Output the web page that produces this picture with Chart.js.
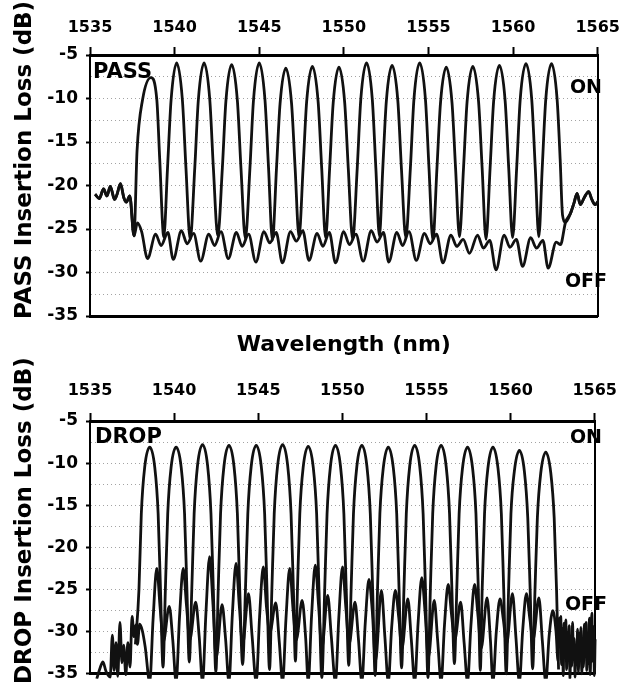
<!DOCTYPE html>
<html>
<head>
<meta charset="utf-8">
<script src="https://cdn.jsdelivr.net/npm/chart.js@4.4.1/dist/chart.umd.min.js"></script>
<style>
  body { margin: 0; background: #fff; width: 630px; height: 692px; position: relative; overflow: hidden; }
  .panel { position: absolute; left: 0; width: 630px; }
  .ytitle {
    position: absolute; left: 12px; color: #000;
    font: bold 23px "DejaVu Sans"; line-height: 23px; white-space: nowrap;
    transform-origin: 0 0; transform: rotate(-90deg);
  }
</style>
</head>
<body>
<div class="panel" style="top:0;height:370px"><canvas id="passChart"></canvas></div>
<div class="panel" style="top:370px;height:322px"><canvas id="dropChart"></canvas></div>
<div class="ytitle" style="top:319px">PASS Insertion Loss (dB)</div>
<div class="ytitle" style="top:684px">DROP Insertion Loss (dB)</div>
<script>
// axis ranges
const nmMin = 1535, nmMax = 1565;
const dbMin = -35, dbMax = -5;

// PASS port: [wavelength nm, loss dB]
const passLeftEdge = [
  [1535.30, -21.0], [1535.55, -21.5], [1535.80, -20.4], [1536.00, -21.2], [1536.20, -20.1], [1536.45, -21.6],
  [1536.60, -21.0], [1536.80, -19.8], [1537.00, -21.4], [1537.15, -21.9], [1537.35, -21.2], [1537.60, -25.8]
];
const passRightEdge = [
  [1563.10, -24.2], [1563.39, -23.2], [1563.60, -22.0], [1563.78, -20.9], [1563.97, -22.2], [1564.20, -21.4],
  [1564.46, -20.7], [1564.65, -21.6], [1564.85, -22.2], [1565.05, -21.8], [1565.20, -22.3]
];
const passOnBand = [
  [1537.78, -16.0], [1538.10, -10.2], [1538.60, -7.6], [1538.95, -10.2], [1539.12, -17.0], [1539.36, -25.9],
  [1539.58, -18.0], [1539.79, -10.2], [1540.12, -5.9], [1540.46, -10.2], [1540.67, -18.0], [1540.92, -26.2],
  [1541.19, -18.0], [1541.40, -10.2], [1541.74, -5.9], [1542.08, -10.2], [1542.29, -18.0], [1542.55, -25.8],
  [1542.82, -18.0], [1543.03, -10.3], [1543.37, -6.1], [1543.71, -10.3], [1543.92, -18.0], [1544.18, -26.1],
  [1544.45, -18.0], [1544.66, -10.2], [1545.00, -5.9], [1545.34, -10.2], [1545.55, -18.0], [1545.78, -26.3],
  [1546.02, -18.0], [1546.23, -10.6], [1546.57, -6.5], [1546.91, -10.6], [1547.12, -18.0], [1547.35, -25.9],
  [1547.59, -18.0], [1547.80, -10.4], [1548.14, -6.3], [1548.48, -10.4], [1548.69, -18.0], [1548.92, -26.0],
  [1549.16, -18.0], [1549.37, -10.5], [1549.71, -6.4], [1550.05, -10.5], [1550.26, -18.0], [1550.52, -26.2],
  [1550.79, -18.0], [1551.00, -10.1], [1551.34, -5.9], [1551.68, -10.1], [1551.89, -18.0], [1552.10, -25.8],
  [1552.30, -18.0], [1552.51, -10.3], [1552.85, -6.2], [1553.19, -10.3], [1553.40, -18.0], [1553.66, -26.0],
  [1553.93, -18.0], [1554.14, -10.1], [1554.48, -5.9], [1554.82, -10.1], [1555.03, -18.0], [1555.26, -26.3],
  [1555.50, -18.0], [1555.71, -10.5], [1556.05, -6.4], [1556.39, -10.5], [1556.60, -18.0], [1556.83, -25.9],
  [1557.07, -18.0], [1557.28, -10.4], [1557.62, -6.3], [1557.96, -10.4], [1558.17, -18.0], [1558.40, -26.2],
  [1558.64, -18.0], [1558.85, -10.3], [1559.19, -6.2], [1559.53, -10.3], [1559.74, -18.0], [1559.97, -26.0],
  [1560.21, -18.0], [1560.42, -10.1], [1560.76, -6.0], [1561.10, -10.1], [1561.31, -18.0], [1561.52, -25.9],
  [1561.72, -18.0], [1561.93, -10.1], [1562.27, -6.0], [1562.60, -10.1], [1562.78, -17.0], [1562.92, -23.4]
];
const passOffBand = [
  [1537.80, -24.3], [1538.05, -25.3], [1538.40, -28.4], [1538.88, -25.6], [1539.20, -26.9], [1539.60, -25.4],
  [1539.92, -28.5], [1540.40, -25.2], [1540.74, -26.7], [1541.12, -25.5],
  [1541.54, -28.7], [1542.02, -25.6], [1542.36, -26.9], [1542.74, -25.3],
  [1543.17, -28.4], [1543.65, -25.4], [1543.99, -27.0], [1544.37, -25.6],
  [1544.80, -28.8], [1545.28, -25.3], [1545.62, -26.6], [1546.00, -25.4],
  [1546.37, -28.9], [1546.85, -25.3], [1547.19, -26.4], [1547.57, -25.2],
  [1547.94, -28.6], [1548.42, -25.5], [1548.76, -27.0], [1549.14, -25.4],
  [1549.51, -28.9], [1549.99, -25.3], [1550.33, -26.8], [1550.71, -25.6],
  [1551.14, -28.7], [1551.62, -25.2], [1551.96, -26.5], [1552.34, -25.4],
  [1552.65, -28.8], [1553.13, -25.4], [1553.47, -26.9], [1553.85, -25.3],
  [1554.28, -28.6], [1554.76, -25.5], [1555.10, -26.7], [1555.48, -25.6],
  [1555.85, -28.9], [1556.33, -25.7], [1556.67, -27.0], [1557.05, -26.2],
  [1557.42, -27.8], [1557.90, -25.7], [1558.24, -27.2], [1558.62, -26.3],
  [1558.99, -29.7], [1559.47, -25.7], [1559.81, -27.1], [1560.19, -26.2],
  [1560.56, -29.3], [1561.04, -26.0], [1561.38, -27.2], [1561.76, -26.3],
  [1562.07, -29.5], [1562.55, -26.5], [1562.80, -26.8]
];

// DROP port
const dropOnBand = [
  [1537.70, -31.5], [1537.91, -25.0], [1538.05, -16.0], [1538.25, -10.5], [1538.55, -8.1], [1538.85, -10.5], [1539.05, -16.0], [1539.19, -25.0], [1539.34, -34.2],
  [1539.48, -25.0], [1539.62, -16.0], [1539.82, -10.5], [1540.12, -8.1], [1540.42, -10.5], [1540.62, -16.0], [1540.76, -25.0], [1540.90, -33.6],
  [1541.05, -25.0], [1541.19, -16.0], [1541.39, -10.3], [1541.69, -7.8], [1541.99, -10.3], [1542.19, -16.0], [1542.33, -25.0], [1542.48, -34.8],
  [1542.62, -25.0], [1542.76, -16.0], [1542.96, -10.4], [1543.26, -7.9], [1543.56, -10.4], [1543.76, -16.0], [1543.90, -25.0], [1544.07, -33.9],
  [1544.24, -25.0], [1544.38, -16.0], [1544.58, -10.4], [1544.88, -7.9], [1545.18, -10.4], [1545.38, -16.0], [1545.52, -25.0], [1545.67, -34.5],
  [1545.81, -25.0], [1545.95, -16.0], [1546.15, -10.3], [1546.45, -7.8], [1546.75, -10.3], [1546.95, -16.0], [1547.09, -25.0], [1547.21, -33.5],
  [1547.33, -25.0], [1547.47, -16.0], [1547.67, -10.5], [1547.97, -8.0], [1548.27, -10.5], [1548.47, -16.0], [1548.61, -25.0], [1548.78, -35.5],
  [1548.95, -25.0], [1549.09, -16.0], [1549.29, -10.4], [1549.59, -7.9], [1549.89, -10.4], [1550.09, -16.0], [1550.23, -25.0], [1550.38, -34.0],
  [1550.52, -25.0], [1550.66, -16.0], [1550.86, -10.4], [1551.16, -7.9], [1551.46, -10.4], [1551.66, -16.0], [1551.80, -25.0], [1551.95, -35.2],
  [1552.09, -25.0], [1552.23, -16.0], [1552.43, -10.6], [1552.73, -8.1], [1553.03, -10.6], [1553.23, -16.0], [1553.37, -25.0], [1553.52, -34.3],
  [1553.66, -25.0], [1553.80, -16.0], [1554.00, -10.4], [1554.30, -7.9], [1554.60, -10.4], [1554.80, -16.0], [1554.94, -25.0], [1555.09, -35.5],
  [1555.23, -25.0], [1555.37, -16.0], [1555.57, -10.4], [1555.87, -7.9], [1556.17, -10.4], [1556.37, -16.0], [1556.51, -25.0], [1556.66, -33.8],
  [1556.80, -25.0], [1556.94, -16.0], [1557.14, -10.6], [1557.44, -8.1], [1557.74, -10.6], [1557.94, -16.0], [1558.08, -25.0], [1558.20, -34.6],
  [1558.31, -25.0], [1558.45, -16.0], [1558.65, -10.6], [1558.95, -8.1], [1559.25, -10.6], [1559.45, -16.0], [1559.59, -25.0], [1559.74, -35.0],
  [1559.88, -25.0], [1560.02, -16.0], [1560.22, -11.0], [1560.52, -8.5], [1560.82, -11.0], [1561.02, -16.5], [1561.16, -25.0], [1561.31, -34.4],
  [1561.45, -25.0], [1561.59, -16.5], [1561.79, -11.2], [1562.09, -8.7], [1562.39, -11.2], [1562.59, -16.5], [1562.73, -25.0], [1562.85, -34.5]
];
const dropLeftNoise = [
  [1535.40, -35.6], [1535.60, -34.3], [1535.77, -33.6], [1535.95, -34.7], [1536.20, -35.4], [1536.33, -30.4], [1536.43, -34.6],
  [1536.55, -31.3], [1536.65, -35.3], [1536.78, -28.9], [1536.90, -33.7], [1537.00, -31.6], [1537.13, -35.1], [1537.25, -31.3],
  [1537.38, -34.2], [1537.50, -28.2], [1537.62, -30.6], [1537.72, -29.2], [1537.82, -31.5], [1537.95, -29.1], [1538.10, -29.8],
  [1538.28, -31.8]
];
const dropOffBand = [
  [1538.55, -36.0], [1538.75, -28.5], [1538.97, -22.5], [1539.17, -27.2], [1539.36, -31.2], [1539.71, -27.0], [1539.92, -31.0],
  [1540.12, -36.0], [1540.32, -28.3], [1540.54, -22.5], [1540.74, -27.0], [1540.93, -31.0], [1541.28, -26.5], [1541.49, -30.6],
  [1541.69, -36.0], [1541.89, -27.8], [1542.11, -21.1], [1542.31, -26.8], [1542.50, -33.1], [1542.85, -26.8], [1543.06, -30.9],
  [1543.26, -36.0], [1543.46, -28.0], [1543.68, -21.9], [1543.88, -27.1], [1544.07, -31.6], [1544.42, -25.5], [1544.63, -30.4],
  [1544.88, -36.0], [1545.08, -28.2], [1545.30, -22.3], [1545.50, -27.3], [1545.69, -30.1], [1546.04, -26.6], [1546.25, -31.2],
  [1546.45, -36.0], [1546.65, -28.4], [1546.87, -22.5], [1547.07, -27.4], [1547.26, -31.0], [1547.61, -26.3], [1547.82, -30.8],
  [1547.97, -36.0], [1548.17, -28.1], [1548.39, -22.1], [1548.59, -27.0], [1548.78, -32.0], [1549.13, -25.7], [1549.34, -30.5],
  [1549.59, -36.0], [1549.79, -28.3], [1550.01, -22.3], [1550.21, -27.2], [1550.40, -31.5], [1550.75, -26.5], [1550.96, -31.0],
  [1551.16, -36.0], [1551.36, -29.0], [1551.58, -23.8], [1551.78, -27.6], [1551.97, -33.5], [1552.32, -25.1], [1552.53, -30.7],
  [1552.73, -36.0], [1552.93, -29.5], [1553.15, -25.1], [1553.35, -28.3], [1553.54, -32.0], [1553.89, -26.1], [1554.10, -31.0],
  [1554.30, -36.0], [1554.50, -29.0], [1554.72, -23.6], [1554.92, -27.8], [1555.11, -33.1], [1555.46, -26.3], [1555.67, -31.2],
  [1555.87, -36.0], [1556.07, -29.2], [1556.29, -24.4], [1556.49, -28.0], [1556.68, -31.0], [1557.03, -26.5], [1557.24, -31.4],
  [1557.44, -36.0], [1557.64, -29.3], [1557.86, -24.4], [1558.06, -28.1], [1558.25, -32.0], [1558.60, -26.0], [1558.80, -31.0],
  [1558.95, -36.0], [1559.15, -30.0], [1559.37, -26.1], [1559.57, -28.6], [1559.76, -31.5], [1560.11, -25.5], [1560.32, -30.8],
  [1560.52, -36.0], [1560.72, -29.8], [1560.94, -25.5], [1561.14, -28.4], [1561.33, -31.0], [1561.68, -26.0], [1561.89, -31.2],
  [1562.09, -36.0], [1562.29, -30.5], [1562.51, -27.5], [1562.70, -30.0]
];
const dropRightNoise = [
  [1562.82, -33.5], [1562.88, -28.4], [1562.93, -31.8], [1562.98, -28.2], [1563.03, -33.9], [1563.08, -29.6], [1563.13, -35.2],
  [1563.18, -29.0], [1563.23, -32.7], [1563.28, -28.6], [1563.33, -34.5], [1563.38, -30.1], [1563.43, -33.0], [1563.48, -29.3],
  [1563.53, -35.6], [1563.58, -30.5], [1563.63, -34.1], [1563.68, -28.9], [1563.73, -32.4], [1563.78, -30.8], [1563.83, -35.4],
  [1563.88, -31.6], [1563.93, -33.9], [1563.98, -29.7], [1564.03, -34.8], [1564.08, -30.2], [1564.13, -33.2], [1564.18, -29.5],
  [1564.23, -35.0], [1564.28, -31.4], [1564.33, -34.2], [1564.38, -29.1], [1564.43, -32.9], [1564.48, -28.9], [1564.53, -34.6],
  [1564.58, -30.6], [1564.63, -33.8], [1564.68, -28.4], [1564.73, -35.1], [1564.78, -30.9], [1564.83, -27.8], [1564.88, -33.5],
  [1564.93, -29.4], [1564.98, -35.2], [1565.03, -30.8], [1565.08, -33.1], [1565.13, -28.9], [1565.20, -31.5]
];

const passOn = passLeftEdge.concat(passOnBand, passRightEdge);
const passOff = passLeftEdge.concat(passOffBand, passRightEdge);
const dropOn = dropOnBand;
const dropOff = dropLeftNoise.concat(dropOffBand, dropRightNoise);

Chart.defaults.font.family = '"DejaVu Sans", sans-serif';

// free text inside the frames (PASS / DROP / ON / OFF)
const panelText = {
  id: 'panelText',
  afterDraw(chart, args, opts) {
    const ctx = chart.ctx;
    ctx.save();
    ctx.fillStyle = '#000';
    ctx.textBaseline = 'alphabetic';
    (opts.items || []).forEach(it => {
      ctx.font = 'bold ' + it.size + 'px "DejaVu Sans"';
      ctx.textAlign = it.align;
      ctx.fillText(it.text, it.x, it.y);
    });
    ctx.restore();
  }
};

function trace(pts) {
  return {
    data: pts.map(p => ({ x: p[0], y: p[1] })),
    borderColor: '#111',
    borderWidth: 2.8,
    pointRadius: 0,
    fill: false,
    cubicInterpolationMode: 'monotone',
    clip: { left: 0, top: 2, right: 5, bottom: 5 },
    xAxisID: 'x',
    yAxisID: 'y'
  };
}

function panelOptions(cfg) {
  return {
    responsive: true,
    maintainAspectRatio: false,
    animation: false,
    parsing: false,
    layout: { padding: 0 },
    plugins: {
      legend: { display: false },
      tooltip: { enabled: false },
      panelText: { items: cfg.labels }
    },
    scales: {
      x: {
        type: 'linear', position: 'top', min: nmMin, max: nmMax,
        afterFit: s => { s.height = cfg.topH; },
        ticks: {
          stepSize: 5, autoSkip: false, maxRotation: 0, color: '#000', padding: cfg.tickPad,
          font: { size: 16, weight: 'bold' },
          callback: v => String(v)
        },
        grid: { drawOnChartArea: false, tickLength: 8, tickWidth: 2, tickColor: '#000' },
        border: { width: 3, color: '#000' }
      },
      x2: {
        type: 'linear', position: 'bottom', min: nmMin, max: nmMax,
        afterFit: s => { s.height = cfg.bottomH; },
        ticks: { display: false },
        grid: { display: false },
        border: { width: 3, color: '#000' },
        title: cfg.xTitle
      },
      y: {
        type: 'linear', position: 'left', min: dbMin, max: dbMax,
        afterFit: s => { s.width = 90; },
        ticks: {
          stepSize: 2.5, autoSkip: false, color: '#000', padding: 8,
          font: { size: 17, weight: 'bold' },
          callback: v => (v % 5 === 0 ? String(v) : '')
        },
        grid: {
          lineWidth: 1,
          color: c => (c.tick && (c.tick.value <= dbMin || c.tick.value >= dbMax)) ? 'rgba(0,0,0,0)' : '#a3a3a3',
          tickLength: 4, tickWidth: 2,
          tickColor: c => (c.tick && c.tick.value % 5 === 0) ? '#000' : 'rgba(0,0,0,0)'
        },
        border: { width: 2, color: '#000', dash: [1, 3] }
      },
      y2: {
        type: 'linear', position: 'right', min: dbMin, max: dbMax,
        afterFit: s => { s.width = 24; },
        ticks: { display: false },
        grid: { display: false },
        border: { width: 2, color: '#000' }
      }
    }
  };
}

new Chart(document.getElementById('passChart'), {
  type: 'line',
  data: { datasets: [trace(passOff), trace(passOn)] },
  options: panelOptions({
    topH: 55, bottomH: 54, tickPad: 10,
    xTitle: {
      display: true, text: 'Wavelength (nm)', color: '#000',
      font: { size: 22, weight: 'bold' }, padding: { top: 0, bottom: 12 }
    },
    labels: [
      { text: 'PASS', x: 93, y: 78, align: 'left', size: 21 },
      { text: 'ON', x: 602, y: 93, align: 'right', size: 19 },
      { text: 'OFF', x: 607, y: 287, align: 'right', size: 19 }
    ]
  }),
  plugins: [panelText]
});

new Chart(document.getElementById('dropChart'), {
  type: 'line',
  data: { datasets: [trace(dropOff), trace(dropOn)] },
  options: panelOptions({
    topH: 51, bottomH: 9, tickPad: 13,
    xTitle: { display: false },
    labels: [
      { text: 'DROP', x: 95, y: 73, align: 'left', size: 21 },
      { text: 'ON', x: 602, y: 73, align: 'right', size: 19 },
      { text: 'OFF', x: 607, y: 240, align: 'right', size: 19 }
    ]
  }),
  plugins: [panelText]
});
</script>
</body>
</html>
